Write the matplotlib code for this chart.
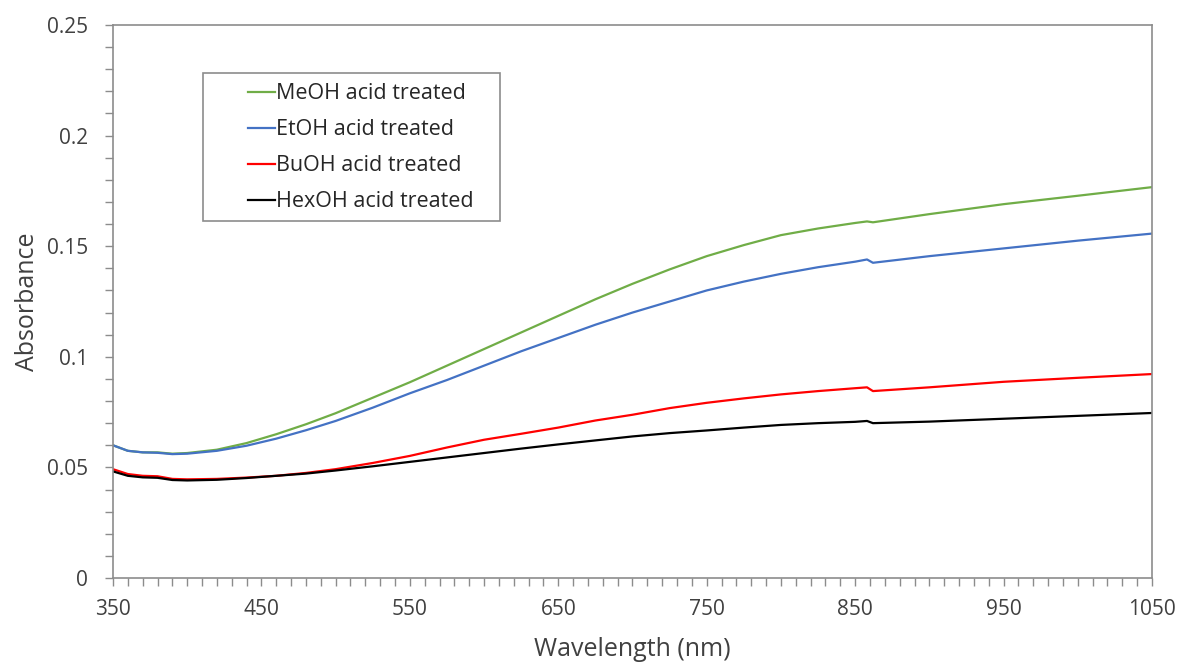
import numpy as np
import matplotlib.pyplot as plt
from matplotlib.patches import Rectangle
from matplotlib.ticker import MultipleLocator

plt.rcParams['font.family'] = ['Open Sans', 'DejaVu Sans']

# absorbance spectra, sampled along wavelength (nm)
wavelength = [350, 360, 370, 380, 390, 400, 420, 440, 460, 480, 500, 525, 550,
              575, 600, 625, 650, 675, 700, 725, 750, 775, 800, 825, 850, 858,
              862, 900, 950, 1000, 1050]

meoh = [0.0600, 0.0575, 0.0568, 0.0568, 0.0562, 0.0565, 0.0580, 0.0610, 0.0650,
        0.0695, 0.0745, 0.0815, 0.0885, 0.0960, 0.1035, 0.1110, 0.1185, 0.1260,
        0.1330, 0.1395, 0.1455, 0.1505, 0.1550, 0.1580, 0.1605, 0.1612, 0.1608,
        0.1645, 0.1690, 0.1728, 0.1767]
etoh = [0.0600, 0.0575, 0.0568, 0.0566, 0.0560, 0.0562, 0.0575, 0.0598, 0.0630,
        0.0668, 0.0710, 0.0770, 0.0835, 0.0895, 0.0960, 0.1025, 0.1085, 0.1145,
        0.1200, 0.1250, 0.1300, 0.1340, 0.1375, 0.1405, 0.1430, 0.1440, 0.1425,
        0.1455, 0.1490, 0.1525, 0.1557]
buoh = [0.0492, 0.0470, 0.0462, 0.0460, 0.0448, 0.0446, 0.0448, 0.0454, 0.0462,
        0.0475, 0.0492, 0.0520, 0.0552, 0.0590, 0.0625, 0.0652, 0.0680, 0.0712,
        0.0738, 0.0768, 0.0792, 0.0812, 0.0830, 0.0845, 0.0858, 0.0862, 0.0845,
        0.0862, 0.0887, 0.0905, 0.0922]
hexoh = [0.0482, 0.0462, 0.0455, 0.0453, 0.0443, 0.0441, 0.0444, 0.0452, 0.0462,
         0.0472, 0.0486, 0.0505, 0.0525, 0.0545, 0.0565, 0.0585, 0.0604, 0.0622,
         0.0640, 0.0655, 0.0667, 0.0680, 0.0692, 0.0700, 0.0706, 0.0710, 0.0700,
         0.0707, 0.0720, 0.0733, 0.0746]

labels = ['MeOH acid treated', 'EtOH acid treated', 'BuOH acid treated', 'HexOH acid treated']
colors = ['#70AD47', '#4472C4', '#FF0000', '#000000']

xticks = [350, 450, 550, 650, 750, 850, 950, 1050]
yticks = [0, 0.05, 0.1, 0.15, 0.2, 0.25]
ytick_labels = ['0', '0.05', '0.1', '0.15', '0.2', '0.25']

fig = plt.figure(figsize=(11.83, 6.63), dpi=100)
ax = fig.add_axes([0.0955, 0.1282, 0.8783, 0.8341])

for series, lab, col in zip([meoh, etoh, buoh, hexoh], labels, colors):
    ax.plot(wavelength, series, color=col, lw=1.6, label=lab)

ax.set_xlim(350, 1050)
ax.set_ylim(0, 0.25)
ax.set_xticks(xticks)
ax.xaxis.set_minor_locator(MultipleLocator(10))
ax.set_yticks(yticks)
ax.set_yticklabels(ytick_labels)
ax.yaxis.set_minor_locator(MultipleLocator(0.01))

for sp in ax.spines.values():
    sp.set_color('#8c8c8c')
    sp.set_linewidth(1.2)

ax.tick_params(which='both', direction='out', length=6, width=1, color='#8c8c8c',
               labelsize=15, labelcolor='#404040')
ax.tick_params(axis='x', pad=9)
ax.tick_params(axis='y', pad=12)

ax.set_xlabel('Wavelength (nm)', fontsize=18, color='#404040', labelpad=12)
ax.set_ylabel('Absorbance', fontsize=18, color='#404040', labelpad=5)

# legend box drawn separately so its padding can be wider than the text block
ax.add_patch(Rectangle((0.0866, 0.6456), 0.286, 0.2676, transform=ax.transAxes,
                       facecolor='white', edgecolor='#8c8c8c', lw=1.2, zorder=3))
leg = ax.legend(loc='upper left', bbox_to_anchor=(0.130, 0.895), frameon=False,
                fontsize=15.5, handlelength=1.25, handletextpad=0.05,
                labelspacing=0.7, borderpad=0, borderaxespad=0)
leg.set_zorder(4)
for t in leg.get_texts():
    t.set_color('#262626')

fig.savefig('out.png', dpi=100)
